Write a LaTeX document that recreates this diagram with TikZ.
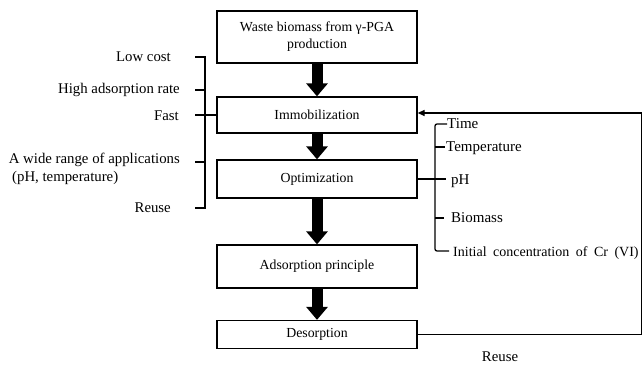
\documentclass[tikz,border=0pt]{standalone}
\usepackage{fontspec}
\setmainfont{Liberation Serif}
\usetikzlibrary{arrows.meta}
\begin{document}
\begin{tikzpicture}[x=1pt,y=-1pt,
  box/.style={draw,line width=1.3pt,minimum width=200pt,inner sep=2pt,align=center,font=\fontsize{13.8}{17}\selectfont},
  bigarrow/.style={line width=11pt,-{Triangle[length=13pt,width=21pt]}},
  thin/.style={line width=1.3pt},
  lbl/.style={font=\fontsize{14.8}{17}\selectfont,inner sep=0pt},
  rlbl/.style={font=\fontsize{15}{17}\selectfont,inner sep=0pt,anchor=west}]
\useasboundingbox (0,0) rectangle (643,366);
\node[box,minimum height=52pt] (b1) at (317,37) {Waste biomass from γ-PGA\\production};
\node[box,minimum height=36pt] (b2) at (317,115) {Immobilization};
\node[box,minimum height=38pt] (b3) at (317,179) {Optimization};
\node[box,minimum height=43pt] (b4) at (317,266.5) {Adsorption principle};
\node[box,minimum height=28pt] (b5) at (317,334.5) {Desorption};
\draw[bigarrow] (b1) -- (b2);
\draw[bigarrow] (b2) -- (b3);
\draw[bigarrow] (b3) -- (b4);
\draw[bigarrow] (b4) -- (b5);
% left bracket
\draw[thin] (195,57) -- (205,57) -- (205,208) -- (195,208);
\draw[thin] (195,90) -- (205,90);
\draw[thin] (195,162) -- (205,162);
\coordinate (fs) at (195,0);
\draw[thin] (fs |- b2.west) -- (b2.west);
\node[lbl,anchor=east] (l1) at (171,57) {Low cost};
\node[lbl,anchor=east] (l2) at (180,90) {High adsorption rate};
\node[lbl,anchor=east] (l3) at (179,116) {Fast};
\node[lbl,anchor=east] (l4) at (180,160) {A wide range of applications};
\node[lbl,anchor=west] (l4b) at (12,178) {(pH, temperature)};
\node[lbl,anchor=east] (l5) at (171,208) {Reuse};
% right bracket
\draw[thin,rounded corners=2pt] (447,124) -- (435,124) -- (435,251) -- (449,251);
\draw[thin] (435,147) -- (445,147);
\draw[thin] (435,218) -- (444,218);
\coordinate (ph) at (446,0);
\draw[thin] (b3.east) -- (b3.east -| ph);
\node[rlbl] (r1) at (447,124) {Time};
\node[rlbl] (r2) at (446,148) {Temperature};
\node[rlbl] (r3) at (451,181) {pH};
\node[rlbl] (r4) at (451,218) {Biomass};
\node[rlbl,font=\fontsize{14}{17}\selectfont] (r5) at (453,253) {\spaceskip=6.5pt Initial concentration of Cr (VI)};
% feedback
\coordinate (fb) at (641.5,113);
\draw[thin,-{Triangle[length=7pt,width=6pt]}] (b5.east) -- (b5.east -| fb) -- (fb) -- (b2.north east |- fb);
\node[lbl] (ru) at (500,357) {Reuse};
\end{tikzpicture}
\end{document}
